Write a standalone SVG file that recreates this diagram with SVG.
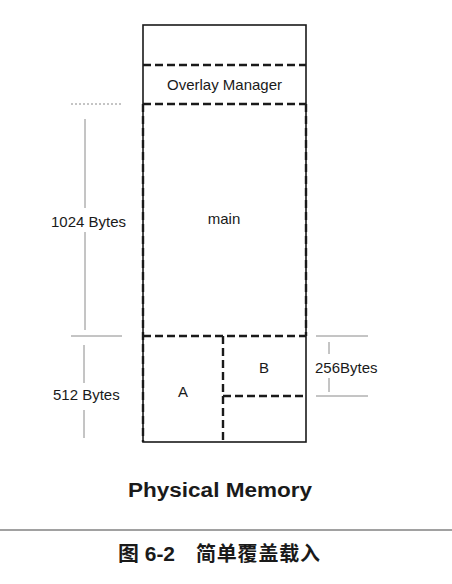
<svg xmlns="http://www.w3.org/2000/svg" width="452" height="584" viewBox="0 0 452 584">
<style>
.t{font-family:"Liberation Sans",Arial,sans-serif;font-size:15px;fill:#1a1a1a}
.solid{fill:none;stroke:#1a1a1a;stroke-width:1.6}
.dash{fill:none;stroke:#1a1a1a;stroke-width:2.4;stroke-dasharray:8 4}
.dim{fill:none;stroke:#8a8a8a;stroke-width:1}
.dot{fill:none;stroke:#8a8a8a;stroke-width:1;stroke-dasharray:2 2}
</style>
<rect width="452" height="584" fill="#fff"/>
<g id="memory">
<rect class="solid" x="143" y="25" width="163" height="417"/>
<line class="dash" x1="143" y1="65" x2="306" y2="65"/>
<line class="dash" x1="143" y1="104" x2="306" y2="104"/>
<line class="dash" x1="143" y1="104" x2="143" y2="442"/>
<line class="dash" x1="306" y1="104" x2="306" y2="336"/>
<line class="dash" x1="143" y1="336" x2="306" y2="336"/>
<line class="dash" x1="223" y1="336" x2="223" y2="442"/>
<line class="dash" x1="223" y1="396" x2="306" y2="396"/>
</g>
<g id="overlay-manager"><text class="t" x="224.5" y="90" text-anchor="middle">Overlay Manager</text></g>
<g id="main"><text class="t" x="224" y="224" text-anchor="middle">main</text></g>
<g id="A"><text class="t" x="183" y="397" text-anchor="middle">A</text></g>
<g id="B"><text class="t" x="264" y="373" text-anchor="middle">B</text></g>
<g id="connectors">
<line class="dot" x1="71" y1="104" x2="121" y2="104"/>
<line class="dim" x1="85" y1="119" x2="85" y2="208"/>
<line class="dim" x1="85" y1="232" x2="85" y2="330"/>
<line class="dim" x1="71" y1="336" x2="122" y2="336"/>
<line class="dim" x1="84" y1="345" x2="84" y2="383"/>
<line class="dim" x1="84" y1="410" x2="84" y2="438"/>
<line class="dim" x1="316" y1="336" x2="368" y2="336"/>
<line class="dim" x1="316" y1="396" x2="368" y2="396"/>
<line class="dim" x1="329" y1="342" x2="329" y2="354"/>
<line class="dim" x1="329" y1="378" x2="329" y2="392"/>
<line x1="0" y1="530" x2="452" y2="530" stroke="#444" stroke-width="1.2"/>
</g>
<g id="labels">
<text class="t" x="51" y="227">1024 Bytes</text>
<text class="t" x="53" y="400">512 Bytes</text>
<text class="t" x="315" y="373">256Bytes</text>
<text x="220" y="497" text-anchor="middle" style="font-family:'Liberation Sans',Arial,sans-serif;font-size:20px;font-weight:bold;fill:#1a1a1a" textLength="184" lengthAdjust="spacingAndGlyphs">Physical Memory</text>
<text x="118" y="561" style="font-family:'Liberation Sans','Noto Sans CJK SC',sans-serif;font-size:20px;font-weight:bold;fill:#1a1a1a" textLength="57" lengthAdjust="spacingAndGlyphs">图 6-2</text>
<text x="196" y="561" style="font-family:'Noto Sans CJK SC',sans-serif;font-size:20px;font-weight:bold;fill:#1a1a1a" textLength="124" lengthAdjust="spacing">简单覆盖载入</text>
</g>
</svg>
